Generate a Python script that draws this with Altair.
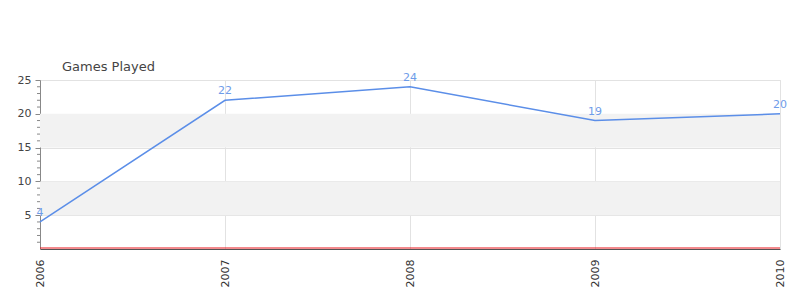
import altair as alt
import pandas as pd

years = [2006, 2007, 2008, 2009, 2010]
games = [4, 22, 24, 19, 20]
band_lo = [5, 15]
band_hi = [10, 20]
major_ticks = [5, 10, 15, 20, 25]
minor_ticks = [v for v in range(0, 26) if v % 5 != 0]
title_text = "Games Played"

df = pd.DataFrame({"year": years, "games": games})
bands = pd.DataFrame({"lo": band_lo, "hi": band_hi})
minor = pd.DataFrame({"v": minor_ticks})

FONT = "DejaVu Sans"

xscale = alt.Scale(domain=[2006, 2010], nice=False, zero=False)
yscale = alt.Scale(domain=[0, 25], nice=False)

yaxis = alt.Axis(values=major_ticks, title=None, grid=True, gridColor="#e2e2e2",
                 tickSize=5, tickColor="#888", domainColor="#888", labelPadding=4,
                 labelFontSize=11, labelColor="#444", labelFont=FONT)

band_layer = alt.Chart(bands).mark_rect(color="#f2f2f2").encode(
    x=alt.value(0), x2=alt.value(740),
    y=alt.Y("lo:Q", scale=yscale, axis=yaxis), y2="hi:Q",
)

minor_layer = alt.Chart(minor).mark_rule(color="#888", strokeWidth=1).encode(
    x=alt.value(-3), x2=alt.value(0),
    y=alt.Y("v:Q", scale=yscale, axis=yaxis),
)

base = alt.Chart(df)

line = base.mark_line(color="#5b8ee8", strokeWidth=1.5).encode(
    x=alt.X("year:Q", scale=xscale,
            axis=alt.Axis(values=years, format="d", labelAngle=-90, ticks=False,
                          labelPadding=10, title=None, grid=True, gridColor="#e2e2e2",
                          domainColor="#555", domainWidth=1, labelFontSize=11,
                          labelColor="#333", labelFont=FONT)),
    y=alt.Y("games:Q", scale=yscale, axis=yaxis),
)

zero_rule = alt.Chart(pd.DataFrame({"z": [0]})).mark_rule(
    color="#e8141a", strokeWidth=1, yOffset=-1
).encode(y=alt.Y("z:Q", scale=yscale, axis=yaxis), x=alt.value(0), x2=alt.value(740))

labels = base.mark_text(color="#6e9ce9", fontSize=11, font=FONT, dy=-9).encode(
    x=alt.X("year:Q", scale=xscale),
    y=alt.Y("games:Q", scale=yscale, axis=yaxis),
    text=alt.Text("games:Q"),
)

title = alt.Chart(pd.DataFrame({"t": [title_text]})).mark_text(
    align="left", baseline="middle", fontSize=13, font=FONT, color="#444"
).encode(x=alt.value(22), y=alt.value(-13), text="t:N")

chart = alt.layer(band_layer, minor_layer, line, zero_rule, labels, title).properties(
    width=740, height=169,
    autosize=alt.AutoSizeParams(type="none"),
    padding={"left": 40, "top": 80, "right": 20, "bottom": 51},
).configure_view(stroke=None).configure(background="white")

chart.save("out.html", embed_options={"renderer": "svg", "actions": False})
